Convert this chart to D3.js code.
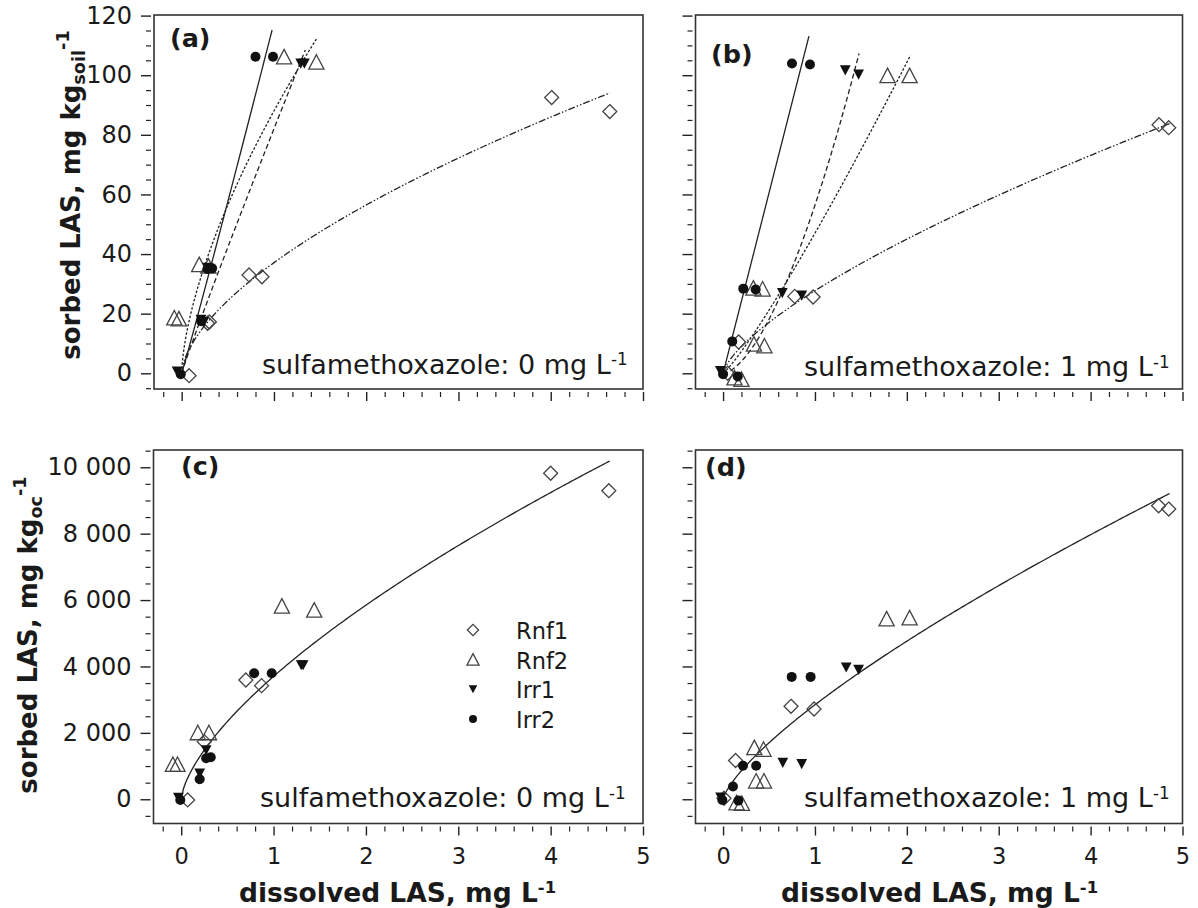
<!DOCTYPE html>
<html><head><meta charset="utf-8">
<script src="https://cdnjs.cloudflare.com/ajax/libs/d3/7.8.5/d3.min.js"></script>
<style>
body{margin:0;background:#fff}
svg{display:block}
text{font-family:"DejaVu Sans",sans-serif;fill:#1a1a1a}
</style>
</head><body>
<svg id="chart" width="1198" height="908"></svg>
<script>
// ---------- DATA ----------
const seriesNames = ["Rnf1", "Rnf2", "Irr1", "Irr2"];

// panel (a): sorbed LAS, mg/kg soil, sulfamethoxazole 0 mg/L
const a_Rnf1 = [[0.08,-0.8],[0.28,16.8],[0.30,17.2],[0.73,33.0],[0.87,32.4],[4.01,92.5],[4.64,87.8]];
const a_Rnf2 = [[-0.08,18.4],[-0.03,18.1],[0.19,36.3],[0.29,35.8],[1.11,106.0],[1.46,104.2]];
const a_Irr1 = [[-0.05,0.7],[0.21,18.0],[0.24,17.3],[0.28,35.5],[1.29,104.0],[1.33,104.0]];
const a_Irr2 = [[-0.01,-0.3],[0.21,17.5],[0.28,35.0],[0.33,35.2],[0.80,106.2],[0.99,106.2]];
// Freundlich fits [K, n, xmax]
const a_fits = [[37.1,0.606,4.64],[88,0.64,1.46],[82,0.956,1.34],[117.6,1.03,0.98]];

// panel (b): sulfamethoxazole 1 mg/L
const b_Rnf1 = [[0.05,0.0],[0.17,10.5],[0.78,25.8],[0.98,25.6],[4.745,83.4],[4.85,82.4]];
const b_Rnf2 = [[0.124,-1.7],[0.20,-2.2],[0.336,9.6],[0.45,9.0],[0.33,28.4],[0.43,28.1],[1.79,99.7],[2.03,99.7]];
const b_Irr1 = [[-0.03,0.8],[0.645,27.0],[0.857,26.2],[1.33,101.7],[1.475,100.3]];
const b_Irr2 = [[0.0,-0.3],[0.16,-1.1],[0.10,10.7],[0.22,28.4],[0.355,28.1],[0.75,103.9],[0.946,103.6]];
const b_fits = [[27.7,0.70,4.86],[47,1.15,2.04],[56.4,1.64,1.48],[121,1.0,0.935]];

// panel (c): sorbed LAS, mg/kg OC, sulfamethoxazole 0 mg/L
const c_Rnf1 = [[0.07,-20],[0.25,1735],[0.70,3593],[0.87,3422],[4.00,9819],[4.63,9295]];
const c_Rnf2 = [[-0.09,1033],[-0.04,1033],[0.18,1988],[0.30,1988],[1.09,5801],[1.44,5681]];
const c_Irr1 = [[-0.03,50],[0.20,783],[0.27,1485],[1.30,4045],[1.32,4045]];
const c_Irr2 = [[-0.01,-20],[0.20,602],[0.27,1235],[0.32,1265],[0.79,3795],[0.98,3795]];
const c_fit = [3700,0.66,4.64];

// panel (d): sulfamethoxazole 1 mg/L
const d_Rnf1 = [[0.01,30],[0.136,1168],[0.74,2800],[0.99,2719],[4.74,8842],[4.85,8741]];
const d_Rnf2 = [[0.147,-121],[0.205,-141],[0.36,534],[0.445,534],[0.34,1541],[0.44,1490],[1.78,5418],[2.03,5448]];
const d_Irr1 = [[-0.027,60],[0.65,1108],[0.856,1067],[1.34,3978],[1.475,3907]];
const d_Irr2 = [[-0.008,-20],[0.167,-40],[0.108,383],[0.217,1007],[0.36,1007],[0.747,3686],[0.953,3686]];
const d_fit = [2845,0.743,4.86];

const xTicks = [0,1,2,3,4,5];
const yTicksSoil = [0,20,40,60,80,100,120];
const yTicksOC = [0,2000,4000,6000,8000,10000];
const panelLetters = ["(a)","(b)","(c)","(d)"];
const smxLevels = ["0","1","0","1"];

// ---------- LAYOUT ----------
const svg = d3.select("#chart");
const frames = [
  {l:154, r:643, t:15, b:389},
  {l:695.5, r:1182.5, t:15, b:389},
  {l:153.5, r:643, t:450, b:823.5},
  {l:695.5, r:1182.5, t:450, b:823.5}
];
const yDomSoil = [-5.27, 120.2];
const yDomOC = [-730, 10520];
const xDom = [-0.3, 5];

const lineStyles = ["7,2,1.5,2,1.5,2", "2.5,1.8", "5,3", null];

function markerPath(type){
  if(type==="Rnf1"){ const s=7; return `M0,${-s}L${s},0L0,${s}L${-s},0Z`; }
  if(type==="Rnf2"){ const w=7.6; return `M0,-8L${w},6.5L${-w},6.5Z`; }
  if(type==="Irr1"){ const w=5.4; return `M${-w},-4.8L${w},-4.8L0,5.4Z`; }
  return null;
}
function drawMarker(g, type, x, y, scale){
  scale = scale||1;
  if(type==="Irr2"){
    g.append("circle").attr("cx",x).attr("cy",y).attr("r",5*scale).attr("fill","#111");
    return;
  }
  const p = g.append("path").attr("d",markerPath(type))
    .attr("transform",`translate(${x},${y}) scale(${scale})`);
  if(type==="Irr1") p.attr("fill","#111");
  else p.attr("fill","none").attr("stroke","#444").attr("stroke-width",1.3/scale);
}

function drawPanel(i, data, fits, yDom, yMajor, yMinorStep, yFmt, isBottom){
  const f = frames[i];
  const x = d3.scaleLinear().domain(xDom).range([f.l, f.r]);
  const y = d3.scaleLinear().domain(yDom).range([f.b, f.t]);
  const g = svg.append("g");

  // x axis ticks (offset below frame)
  const xMinor = d3.range(-0.2, 5.001, 0.2).filter(v=>Math.abs(v-Math.round(v))>1e-6);
  const xa = d3.axisBottom(x).tickValues(xTicks).tickSize(9).tickPadding(13)
    .tickFormat(isBottom ? d3.format("d") : "");
  const xg = g.append("g").attr("transform",`translate(0,${f.b+3})`).call(xa);
  xg.select(".domain").remove();
  xg.selectAll("line").attr("stroke","#222").attr("stroke-width",1.4);
  xg.selectAll("text").attr("font-size",22.5).attr("fill","#222").attr("font-family","DejaVu Sans");
  const xm = g.append("g").attr("transform",`translate(0,${f.b+3})`)
    .call(d3.axisBottom(x).tickValues(xMinor).tickSize(5).tickFormat(""));
  xm.select(".domain").remove();
  xm.selectAll("line").attr("stroke","#222").attr("stroke-width",1.2);

  // y axis ticks (offset left of frame)
  const yMinor = d3.range(Math.ceil(yDom[0]/yMinorStep)*yMinorStep, yDom[1], yMinorStep)
    .filter(v=>!yMajor.includes(v));
  const ya = d3.axisLeft(y).tickValues(yMajor).tickSize(10).tickPadding(9)
    .tickFormat((i===0||i===2) ? yFmt : "");
  const yg = g.append("g").attr("transform",`translate(${f.l-3},0)`).call(ya);
  yg.select(".domain").remove();
  yg.selectAll("line").attr("stroke","#222").attr("stroke-width",1.4);
  yg.selectAll("text").attr("font-size",24).attr("fill","#222").attr("font-family","DejaVu Sans");
  const ym = g.append("g").attr("transform",`translate(${f.l-3},0)`)
    .call(d3.axisLeft(y).tickValues(yMinor).tickSize(5).tickFormat(""));
  ym.select(".domain").remove();
  ym.selectAll("line").attr("stroke","#222").attr("stroke-width",1.2);

  // frame
  g.append("rect").attr("x",f.l).attr("y",f.t).attr("width",f.r-f.l).attr("height",f.b-f.t)
    .attr("fill","none").attr("stroke","#333").attr("stroke-width",1.6);

  // fitted curves
  const line = d3.line().x(d=>x(d[0])).y(d=>y(d[1]));
  fits.forEach((ft, k)=>{
    const [K,n,xmax] = ft;
    const pts = d3.range(0, 201).map(j=>{ const xv = xmax*j/200; return [xv, K*Math.pow(xv,n)]; });
    const p = g.append("path").datum(pts).attr("d",line).attr("fill","none")
      .attr("stroke","#222").attr("stroke-width",1.3);
    const st = fits.length===1 ? null : lineStyles[k];
    if(st) p.attr("stroke-dasharray",st);
  });

  // markers
  seriesNames.forEach((nm,k)=>{
    data[k].forEach(d=>drawMarker(g, nm, x(d[0]), y(d[1])));
  });
  return {x,y,g,f};
}

const fmtSoil = d3.format("d");
const fmtOC = v => d3.format(",")(v).replace(/,/g," ");

drawPanel(0,[a_Rnf1,a_Rnf2,a_Irr1,a_Irr2],a_fits,yDomSoil,yTicksSoil,5,fmtSoil,false);
drawPanel(1,[b_Rnf1,b_Rnf2,b_Irr1,b_Irr2],b_fits,yDomSoil,yTicksSoil,5,fmtSoil,false);
drawPanel(2,[c_Rnf1,c_Rnf2,c_Irr1,c_Irr2],[c_fit],yDomOC,yTicksOC,500,fmtOC,true);
drawPanel(3,[d_Rnf1,d_Rnf2,d_Irr1,d_Irr2],[d_fit],yDomOC,yTicksOC,500,fmtOC,true);

// panel letters
const letterPos = [[170,47],[711,63],[181,475],[705,476]];
panelLetters.forEach((t,i)=>{
  svg.append("text").attr("x",letterPos[i][0]).attr("y",letterPos[i][1])
    .attr("font-size",25.5).attr("font-weight","bold").attr("fill","#111").text(t);
});

// annotations
const annPos = [[262,373.5],[804,376],[260,807],[804,807]];
smxLevels.forEach((lv,i)=>{
  const t = svg.append("text").attr("x",annPos[i][0]).attr("y",annPos[i][1])
    .attr("font-size",27).attr("fill","#1a1a1a");
  t.append("tspan").text(`sulfamethoxazole: ${lv} mg L`);
  t.append("tspan").attr("dy","-0.5em").attr("font-size","0.62em").text("-1");
});

// axis titles
function yTitle(x, y, sub){
  const t = svg.append("text").attr("transform",`translate(${x},${y}) rotate(-90)`)
    .attr("text-anchor","middle").attr("font-size",26).attr("font-weight","bold").attr("fill","#111");
  t.append("tspan").text("sorbed LAS, mg kg");
  t.append("tspan").attr("dy","0.3em").attr("font-size","0.68em").text(sub);
  t.append("tspan").attr("dy","-0.95em").attr("font-size","0.68em").text("-1");
}
yTitle(80, 195, "soil");
yTitle(37, 635, "oc");

function xTitle(x){
  const t = svg.append("text").attr("x",x).attr("y",901.5)
    .attr("font-size",26.5).attr("font-weight","bold").attr("fill","#111");
  t.append("tspan").text("dissolved LAS, mg L");
  t.append("tspan").attr("dy","-0.5em").attr("font-size","0.62em").text("-1");
}
xTitle(239);
xTitle(781);

// legend in panel (c)
const legRows = [630,660,689,719];
seriesNames.forEach((nm,k)=>{
  drawMarker(svg, nm, 473, legRows[k], 0.8);
  svg.append("text").attr("x",516).attr("y",legRows[k]+8.5).attr("font-size",22.5)
    .attr("fill","#1a1a1a").text(nm);
});
</script>
</body></html>
